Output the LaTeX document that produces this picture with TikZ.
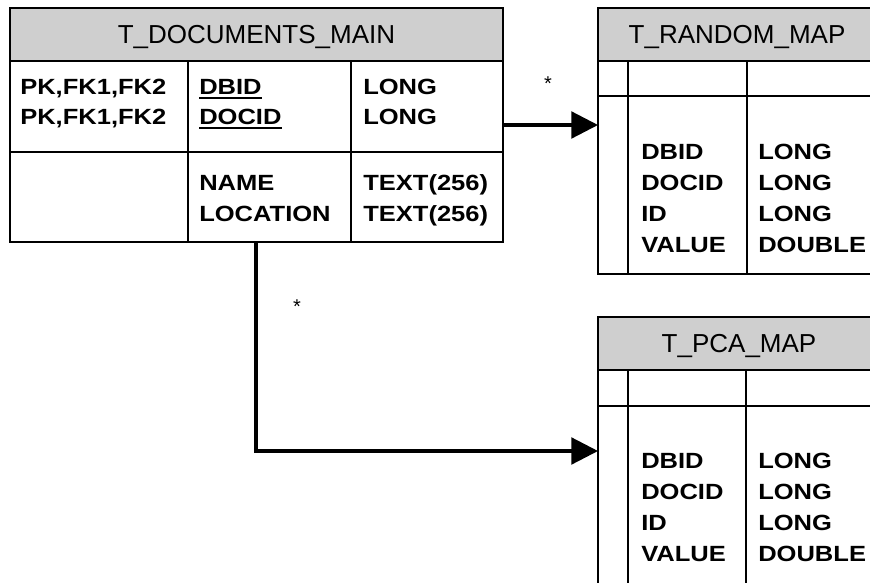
\documentclass[tikz,border=0pt]{standalone}
\usepackage{fontspec}
\setmainfont{Liberation Sans}
\newfontfamily\bdfont[FakeStretch=1.16]{Liberation Sans}
\usetikzlibrary{arrows.meta}
\definecolor{hdgray}{RGB}{207,207,207}
\tikzset{
  tbl/.style={draw=black, line width=1.35pt, inner sep=0pt, outer sep=0pt, anchor=north west},
  hdr/.style={draw=black, line width=1.35pt, fill=hdgray, inner sep=0pt, outer sep=0pt, anchor=north west},
  grid/.style={draw=black, line width=1.35pt},
  hdtext/.style={anchor=base, inner sep=0pt, font=\fontsize{19.5}{23}\selectfont},
  bd/.style={anchor=base west, inner sep=0pt, font=\bdfont\bfseries\fontsize{16.5}{19}\selectfont},
  mult/.style={anchor=base, inner sep=0pt, font=\fontsize{15}{18}\selectfont},
  conn/.style={draw=black, line width=2.4pt, -{Triangle[length=20pt,width=20pt]}},
  uline/.style={draw=black, line width=1.4pt}
}
\begin{document}
\begin{tikzpicture}[x=0.75pt,y=-0.75pt]
\useasboundingbox (0,0) rectangle (870,582);
\clip (0,0) rectangle (870,582);

% ---------------- T_DOCUMENTS_MAIN ----------------
\node[tbl, minimum width=369.75pt, minimum height=175.5pt] (main) at (10,8) {};
\node[hdr, minimum width=369.75pt, minimum height=39.75pt] (mainhd) at (10,8) {};
\node[hdtext] (mainttl) at (256.5,43) {T\_DOCUMENTS\_MAIN};
\path[grid] (10,152) -- (503,152);
\path[grid] (188,61) -- (188,242);
\path[grid] (351,61) -- (351,242);

\node[bd] (mk1) at (20,94) {PK,FK1,FK2};
\node[bd] (mk2) at (20,124) {PK,FK1,FK2};
\node[bd] (mf1) at (199,94) {DBID};
\node[bd] (mf2) at (199,124) {DOCID};
\node[bd] (mt1) at (363,94) {LONG};
\node[bd] (mt2) at (363,124) {LONG};
\path[uline] ([yshift=-3pt]mf1.base west) -- ([yshift=-3pt]mf1.base east);
\path[uline] ([yshift=-3pt]mf2.base west) -- ([yshift=-3pt]mf2.base east);
\node[bd] (mf3) at (199,190) {NAME};
\node[bd] (mf4) at (199,221) {LOCATION};
\node[bd] (mt3) at (363,190) {TEXT(256)};
\node[bd] (mt4) at (363,221) {TEXT(256)};

% ---------------- T_RANDOM_MAP ----------------
\node[tbl, minimum width=211.5pt, minimum height=199.5pt] (rnd) at (598,8) {};
\node[hdr, minimum width=211.5pt, minimum height=39.75pt] (rndhd) at (598,8) {};
\node[hdtext] (rndttl) at (737,43) {T\_RANDOM\_MAP};
\path[grid] (598,96) -- (880,96);
\path[grid] (628,61) -- (628,274);
\path[grid] (747,61) -- (747,274);
\node[bd] (rf1) at (641,159) {DBID};
\node[bd] (rf2) at (641,190) {DOCID};
\node[bd] (rf3) at (641,221) {ID};
\node[bd] (rf4) at (641,252) {VALUE};
\node[bd] (rt1) at (758,159) {LONG};
\node[bd] (rt2) at (758,190) {LONG};
\node[bd] (rt3) at (758,221) {LONG};
\node[bd] (rt4) at (758,252) {DOUBLE};

% ---------------- T_PCA_MAP ----------------
\node[tbl, minimum width=211.5pt, minimum height=213pt] (pca) at (598,317) {};
\node[hdr, minimum width=211.5pt, minimum height=39.75pt] (pcahd) at (598,317) {};
\node[hdtext] (pcattl) at (739,352) {T\_PCA\_MAP};
\path[grid] (598,406) -- (880,406);
\path[grid] (628,370) -- (628,600);
\path[grid] (746,370) -- (746,600);
\node[bd] (pf1) at (641,468) {DBID};
\node[bd] (pf2) at (641,499) {DOCID};
\node[bd] (pf3) at (641,530) {ID};
\node[bd] (pf4) at (641,561) {VALUE};
\node[bd] (pt1) at (758,468) {LONG};
\node[bd] (pt2) at (758,499) {LONG};
\node[bd] (pt3) at (758,530) {LONG};
\node[bd] (pt4) at (758,561) {DOUBLE};

% ---------------- connectors ----------------
\coordinate (j1) at (550,125);
\coordinate (j2) at (256,451);
\draw[conn] (main.east |- j1) -- (rnd.west |- j1);
\draw[conn] (main.south -| j2) -- (j2) -- (pca.west |- j2);
\node[mult] (star1) at (548,90.5) {*};
\node[mult] (star2) at (297,313.5) {*};
\end{tikzpicture}
\end{document}
